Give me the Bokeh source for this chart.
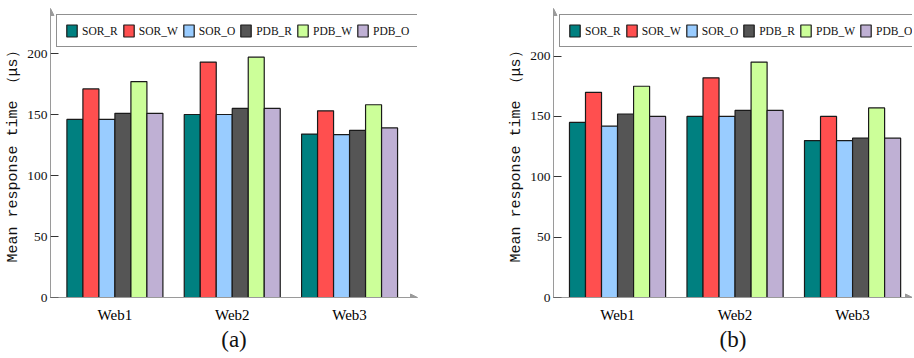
from bokeh.plotting import figure
from bokeh.layouts import row
from bokeh.models import (ColumnDataSource, FixedTicker, Arrow, NormalHead, Legend,
                          LegendItem, Range1d)
from bokeh.embed import file_html
from bokeh.resources import INLINE

categories = ["Web1", "Web2", "Web3"]
series = ["SOR_R", "SOR_W", "SOR_O", "PDB_R", "PDB_W", "PDB_O"]
colors = ["#008080", "#FF4F4F", "#99CCFF", "#555555", "#CCFF99", "#BFB0D4"]
y_ticks = [0, 50, 100, 150, 200]
y_title = "Mean response time （μs）"

# panel (a)
a_sor_r = [146, 150, 134]
a_sor_w = [171, 193, 153]
a_sor_o = [146, 150, 133.5]
a_pdb_r = [151, 155, 137]
a_pdb_w = [177, 197, 158]
a_pdb_o = [151, 155, 139]

# panel (b)
b_sor_r = [145, 150, 130]
b_sor_w = [170, 182, 150]
b_sor_o = [142, 150, 130]
b_pdb_r = [152, 155, 132]
b_pdb_w = [175, 195, 157]
b_pdb_o = [150, 155, 132]

AX = "#9a9a9a"


def make_panel(values, caption, x_start, x_end, y_end, fw, bl, br):
    p = figure(frame_width=fw, frame_height=289, output_backend="svg", toolbar_location=None,
               title=None,
               x_range=Range1d(x_start, x_end), y_range=Range1d(0, y_end),
               min_border_left=bl, min_border_right=br, min_border_top=8,
               min_border_bottom=59)
    p.outline_line_color = None
    p.xgrid.grid_line_color = None
    p.ygrid.grid_line_color = None
    p.background_fill_color = "white"
    p.border_fill_color = "white"

    n = len(series)
    bw = 0.8182 / n
    items = []
    for i, (name, vals, col) in enumerate(zip(series, values, colors)):
        off = (i - (n - 1) / 2) * bw
        src = ColumnDataSource(dict(x=[k + off for k in range(len(categories))], top=vals))
        r = p.vbar(x="x", top="top", width=bw, bottom=0, source=src,
                   fill_color=col, line_color="#1a1a1a", line_width=1.2)
        items.append(LegendItem(label=name, renderers=[r]))

    leg = Legend(items=items, orientation="horizontal", location="top_left")
    leg.margin = 6
    leg.padding = 8
    leg.spacing = 4
    leg.glyph_width = 13
    leg.glyph_height = 15
    leg.label_height = 15
    leg.label_standoff = 4
    leg.label_text_font = "Liberation Serif"
    leg.label_text_font_size = "11.5px"
    leg.label_text_color = "#111111"
    leg.border_line_color = "#222222"
    leg.border_line_width = 1.5
    leg.background_fill_color = "white"
    leg.background_fill_alpha = 1
    p.add_layout(leg, "center")

    # y axis
    ya = p.yaxis[0]
    ya.ticker = FixedTicker(ticks=y_ticks)
    ya.axis_line_color = AX
    ya.major_tick_in = 8
    ya.major_tick_out = 0
    ya.major_tick_line_color = "#333333"
    ya.minor_tick_line_color = None
    ya.major_label_text_font = "Liberation Serif"
    ya.major_label_text_font_size = "13.5px"
    ya.major_label_text_color = "#111111"
    ya.major_label_standoff = 3
    ya.axis_label = y_title
    ya.axis_label_text_font = "Liberation Mono"
    ya.axis_label_text_font_size = "15px"
    ya.axis_label_text_font_style = "normal"
    ya.axis_label_text_color = "#111111"
    ya.axis_label_standoff = 2

    # x axis
    xa = p.xaxis[0]
    xa.ticker = FixedTicker(ticks=list(range(len(categories))))
    xa.major_label_overrides = {k: c for k, c in enumerate(categories)}
    xa.axis_line_color = AX
    xa.major_tick_line_color = None
    xa.minor_tick_line_color = None
    xa.major_label_text_font = "Liberation Serif"
    xa.major_label_text_font_size = "15px"
    xa.major_label_text_font_style = "normal"
    xa.major_label_text_color = "#000000"
    xa.major_label_standoff = 3
    xa.axis_label = caption
    xa.axis_label_text_font = "Liberation Serif"
    xa.axis_label_text_font_size = "23px"
    xa.axis_label_text_font_style = "normal"
    xa.axis_label_text_color = "#111111"
    xa.axis_label_standoff = 1

    p.add_layout(Arrow(end=NormalHead(size=7, fill_color=AX, line_color=AX),
                       x_start=x_start, y_start=0, x_end=x_start, y_end=y_end,
                       line_color=AX, line_width=1))
    p.add_layout(Arrow(end=NormalHead(size=7, fill_color=AX, line_color=AX),
                       x_start=x_start, y_start=0, x_end=x_end, y_end=0,
                       line_color=AX, line_width=1))
    return p


pa = make_panel([a_sor_r, a_sor_w, a_sor_o, a_pdb_r, a_pdb_w, a_pdb_o], "(a)",
                -0.549, 2.579, 236.9, 367, 50, 43)
pb = make_panel([b_sor_r, b_sor_w, b_sor_o, b_pdb_r, b_pdb_w, b_pdb_o], "(b)",
                -0.545, 2.51, 239.4, 359, 93, 0)

layout = row(pa, pb, spacing=0)
open("out.html", "w").write(file_html(layout, INLINE))
